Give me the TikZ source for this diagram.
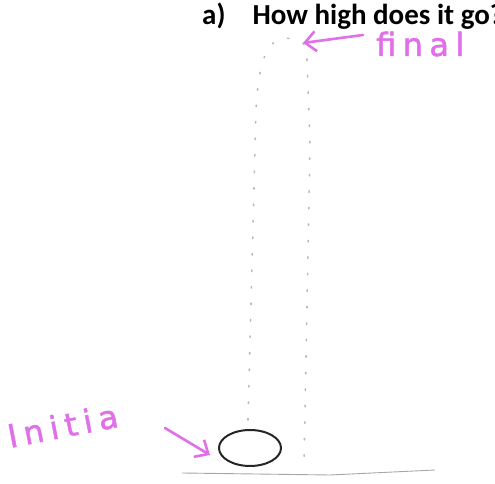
\documentclass[tikz,border=0pt]{standalone}
\usepackage{fontspec}
\setmainfont{Carlito}
\newfontfamily\handfont[LetterSpace=20,FakeBold=1.5]{DejaVu Sans}
\usetikzlibrary{arrows.meta,shapes.geometric}
\definecolor{handpink}{RGB}{224,112,232}

\begin{document}
\begin{tikzpicture}[x=1pt,y=1pt,
    hand/.style={text=handpink,font=\handfont\fontsize{32}{32}\selectfont,inner sep=0pt,anchor=base west},
    pinkarrow/.style={draw=handpink,line width=2.6pt,line cap=round,-{Straight Barb[length=11pt,width=20pt]}},
    trail/.style={gray!55,line width=1.6pt,dash pattern=on 1.5pt off 15pt,line cap=round}]
  \useasboundingbox (0,0) rectangle (495,484);
  \node[font=\bfseries\fontsize{29}{34}\selectfont,anchor=base west,inner sep=0pt] (title) at (202,459) {a)\hspace{27pt}How high does it go?};
  \draw[gray!70,line width=0.9pt] (182,11) -- (330,9) -- (435,14);
  \node[ellipse,draw=black!85,line width=2pt,minimum width=62pt,minimum height=36pt,inner sep=0pt] (ball) at (250,36) {};
  \coordinate (top) at (303,441);
  \draw[trail] (248,64) -- (256,374) .. controls (259,440) and (275,455) .. (top)
    .. controls (306,436) .. (307,425) -- (310,339) -- (304,19);
  \node[hand] (final) at (376,428) {final};
  \coordinate (finalTail) at (363,449);
  \draw[pinkarrow] (finalTail) -- (top);
  \node[hand,rotate=11] (initial) at (10,36) {Initia};
  \coordinate (initTail) at (165,56);
  \draw[pinkarrow] (initTail) -- ([shift={(-8,-7)}]ball.west);
\end{tikzpicture}
\end{document}
